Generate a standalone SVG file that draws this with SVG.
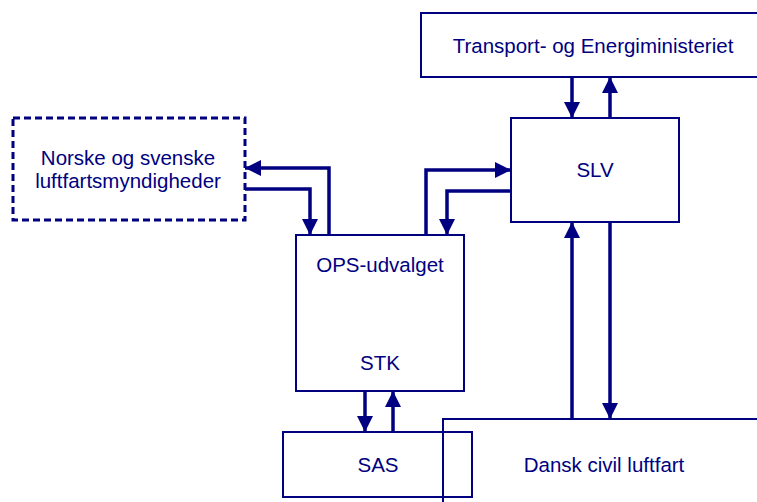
<svg xmlns="http://www.w3.org/2000/svg" width="757" height="502" viewBox="0 0 757 502">
<defs>
<style>
.box{fill:none;stroke:#000080;stroke-width:2}
.dash{fill:none;stroke:#000080;stroke-width:3;stroke-dasharray:7,4}
.lbl{font-family:"Liberation Sans",Arial,sans-serif;font-size:20.5px;fill:#000080;text-anchor:middle}
.con{fill:none;stroke:#000080;stroke-width:3.5;stroke-linejoin:miter}
</style>
<marker id="ah" markerUnits="userSpaceOnUse" markerWidth="16" markerHeight="16" viewBox="0 0 14 14" refX="14" refY="7" orient="auto">
<path d="M0,0 L14,7 L0,14 Z" fill="#000080"/>
</marker>
</defs>
<rect x="0" y="0" width="757" height="502" fill="#ffffff"/>
<g id="transport">
<rect class="box" x="421" y="13" width="345" height="64"/>
<text class="lbl" x="593" y="53">Transport- og Energiministeriet</text>
</g>
<g id="slv">
<rect class="box" x="511" y="118" width="168" height="104"/>
<text class="lbl" x="595" y="177">SLV</text>
</g>
<g id="norske">
<rect class="dash" x="13" y="118" width="232" height="102"/>
<text class="lbl" x="128" y="165">Norske og svenske</text>
<text class="lbl" x="128" y="188">luftfartsmyndigheder</text>
</g>
<g id="ops">
<rect class="box" x="296" y="235" width="168" height="156"/>
<text class="lbl" x="380" y="272">OPS-udvalget</text>
<text class="lbl" x="380" y="370">STK</text>
</g>
<g id="sas">
<rect class="box" x="283" y="432" width="189" height="65"/>
<text class="lbl" x="378" y="472">SAS</text>
</g>
<g id="dansk">
<rect class="box" x="443" y="419" width="340" height="100"/>
<text class="lbl" x="604" y="472">Dansk civil luftfart</text>
</g>
<g id="connectors">
<path class="con" d="M572,77 L572,118" marker-end="url(#ah)"/>
<path class="con" d="M610,118 L610,77" marker-end="url(#ah)"/>
<path class="con" d="M426,235 L426,170 L511,170" marker-end="url(#ah)"/>
<path class="con" d="M511,191 L447,191 L447,235" marker-end="url(#ah)"/>
<path class="con" d="M329,235 L329,168 L245,168" marker-end="url(#ah)"/>
<path class="con" d="M245,189 L310,189 L310,235" marker-end="url(#ah)"/>
<path class="con" d="M365,391 L365,432" marker-end="url(#ah)"/>
<path class="con" d="M393,432 L393,391" marker-end="url(#ah)"/>
<path class="con" d="M572,419 L572,222" marker-end="url(#ah)"/>
<path class="con" d="M610,222 L610,419" marker-end="url(#ah)"/>
</g>
</svg>
